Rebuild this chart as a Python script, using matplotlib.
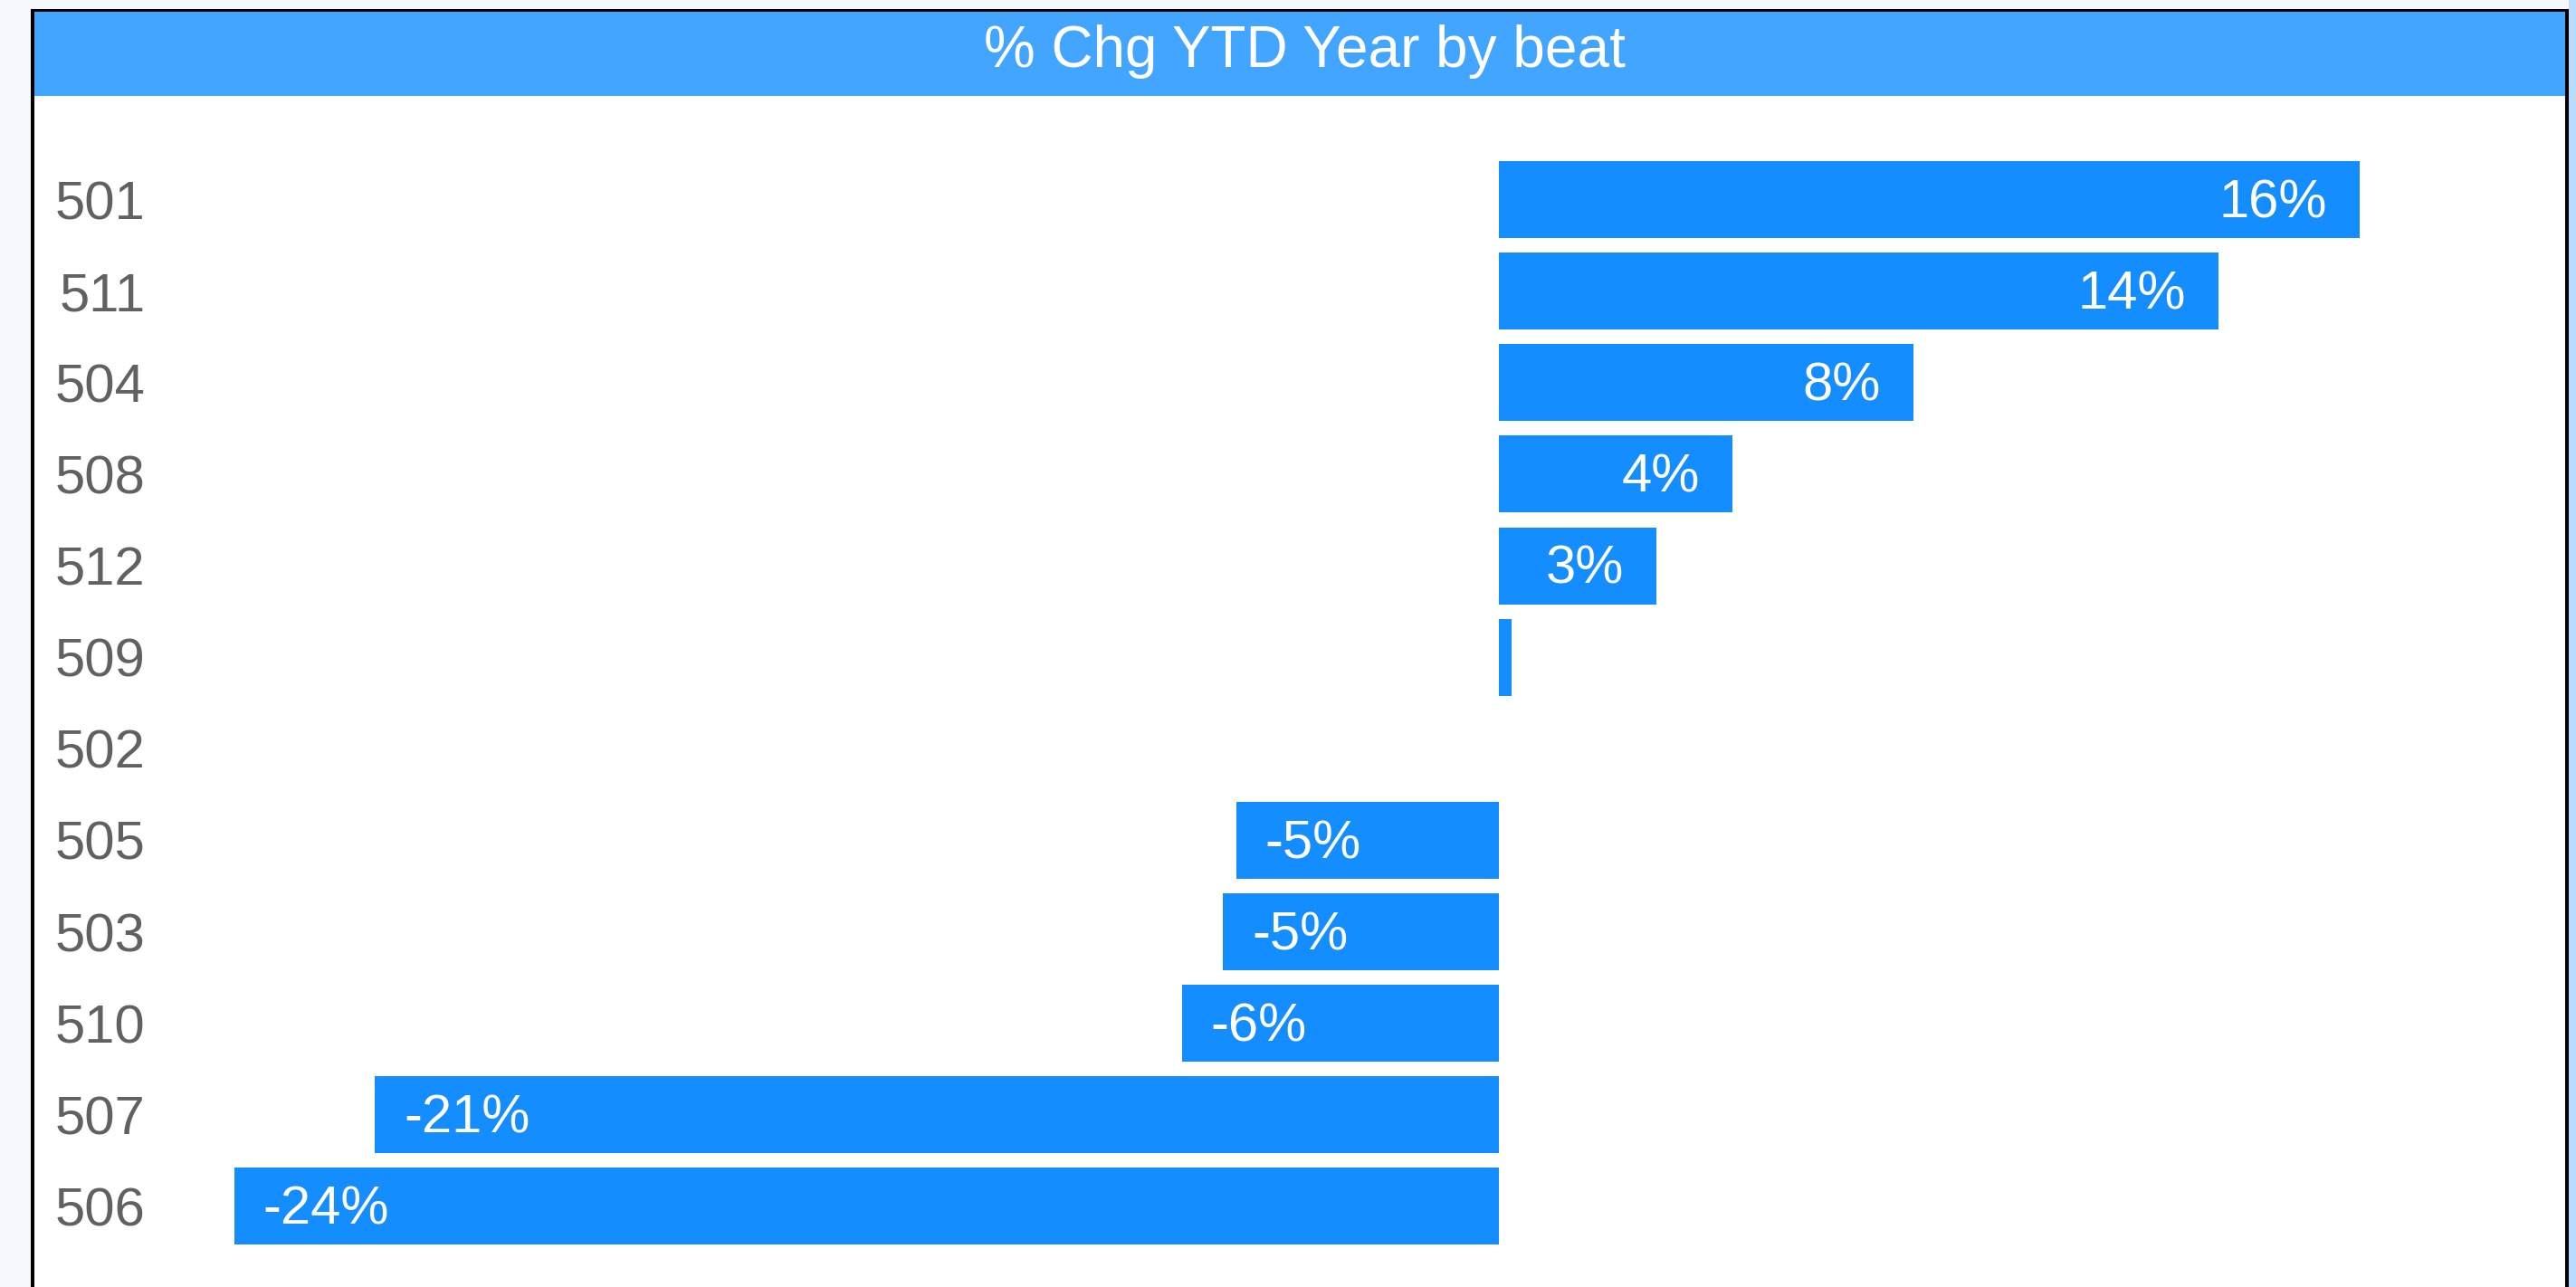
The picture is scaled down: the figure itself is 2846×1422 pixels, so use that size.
import matplotlib
matplotlib.use("Agg")
import matplotlib.pyplot as plt
from matplotlib.patches import Rectangle

plt.rcParams['font.family'] = ['Liberation Sans', 'DejaVu Sans']

# ---- data ----
beats = ["501", "511", "504", "508", "512", "509", "502", "505", "503", "510", "507", "506"]
pct_change = [16.31, 13.64, 7.85, 4.42, 2.99, 0.24, 0.0, -4.98, -5.23, -6.01, -21.30, -23.97]
title = "% Chg YTD Year by beat"

# ---- figure geometry (pixels) ----
W, H, DPI = 2846, 1422, 100
fig = plt.figure(figsize=(W / DPI, H / DPI), dpi=DPI, facecolor="#f5f9fe")

def fx(px):
    return px / W

def fy(py):
    return 1 - py / H

# right light-blue strip
fig.patches.append(Rectangle((fx(2838), 0), fx(W - 2838), 1, transform=fig.transFigure,
                             facecolor="#b8dcff", edgecolor="none", zorder=0))
# white panel
fig.patches.append(Rectangle((fx(37), 0), fx(2834 - 37), fy(13), transform=fig.transFigure,
                             facecolor="white", edgecolor="none", zorder=1))
# black borders
fig.patches.append(Rectangle((fx(34), 0), fx(3.5), fy(10), transform=fig.transFigure,
                             facecolor="black", edgecolor="none", zorder=2))
fig.patches.append(Rectangle((fx(2834), 0), fx(4), fy(10), transform=fig.transFigure,
                             facecolor="black", edgecolor="none", zorder=2))
fig.patches.append(Rectangle((fx(34), fy(13)), fx(2838 - 34), fy(10) - fy(13), transform=fig.transFigure,
                             facecolor="black", edgecolor="none", zorder=2))
# title bar
fig.patches.append(Rectangle((fx(37.5), fy(106)), fx(2834 - 37.5), fy(13) - fy(106), transform=fig.transFigure,
                             facecolor="#42a5ff", edgecolor="none", zorder=2))
fig.text(fx(1441), fy(57), title, color="white", fontsize=46, ha="center", va="center", zorder=3)

# ---- axes ----
ax_left, ax_right = 170, 2834
ax_top, ax_bottom = 170, 1383.5
zero_px, px_per_unit = 1656, 58.3
ax = fig.add_axes([fx(ax_left), fy(ax_bottom), fx(ax_right - ax_left), fy(ax_top) - fy(ax_bottom)])
ax.set_facecolor("none")
ax.set_zorder(5)

ypos = list(range(len(beats)))
ax.barh(ypos, pct_change, height=0.84, color="#138dff", edgecolor="none")
ax.set_xlim((ax_left - zero_px) / px_per_unit, (ax_right - zero_px) / px_per_unit)
ax.set_ylim(len(beats) - 0.5, -0.5)
ax.set_yticks(ypos)
ax.set_yticklabels(beats, fontsize=43, color="#616161")
ax.tick_params(axis="y", length=0, pad=7)
ax.set_xticks([])
for s in ax.spines.values():
    s.set_visible(False)

for y, v in zip(ypos, pct_change):
    if abs(v) < 1:
        continue
    lab = f"{round(v):.0f}%"
    if v > 0:
        ax.annotate(lab, (v, y), xytext=(-26, -3), textcoords="offset points",
                    ha="right", va="center", color="white", fontsize=43)
    else:
        ax.annotate(lab, (v, y), xytext=(23, -3), textcoords="offset points",
                    ha="left", va="center", color="white", fontsize=43)

fig.savefig("out.png", dpi=DPI, facecolor=fig.get_facecolor())
